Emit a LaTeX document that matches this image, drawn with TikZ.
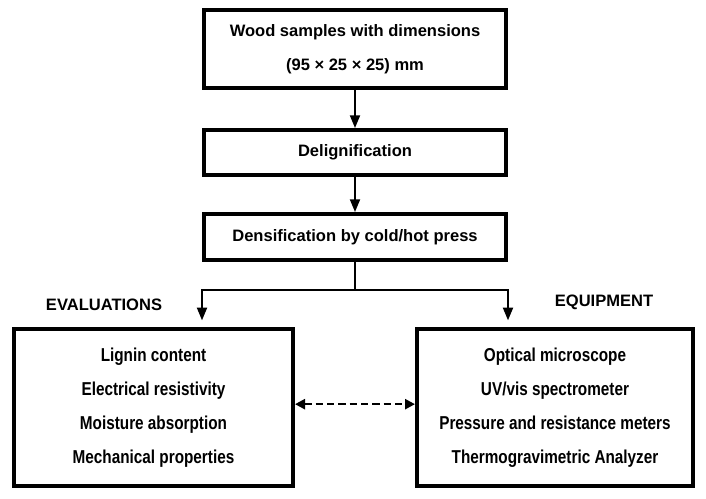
\documentclass[tikz,border=0pt]{standalone}
\usepackage{fontspec}
\setmainfont{Liberation Sans}
\newfontfamily\narrowfont[FakeStretch=0.82]{Liberation Sans}
\usetikzlibrary{arrows.meta,positioning}

\begin{document}
\begin{tikzpicture}[x=0.75pt,y=-0.75pt,
  stage/.style={draw,line width=3pt,minimum width=226.5pt,align=center,font={\bfseries\fontsize{12.4}{25.5}\selectfont}},
  group/.style={draw,line width=3pt,minimum height=117.75pt,align=center,font={\narrowfont\bfseries\fontsize{14}{25.5}\selectfont}},
  heading/.style={font={\bfseries\fontsize{12.4}{15}\selectfont}},
  flow/.style={line width=1.4pt,-{Triangle[length=9.5pt,width=7.5pt]}}]
  \useasboundingbox (0,0) rectangle (706,499);
  \node[stage,minimum height=58.5pt] (wood) at (355,49) {Wood samples with dimensions\\(95 × 25 × 25) mm};
  \node[stage,minimum height=33.75pt,below=28.5pt of wood] (delig) {Delignification};
  \node[stage,minimum height=34.5pt,below=26.25pt of delig] (dens) {Densification by cold/hot press};
  \node[group,minimum width=209.25pt] (eval) at (153.5,407.5) {Lignin content\\Electrical resistivity\\Moisture absorption\\Mechanical properties};
  \node[group,minimum width=207pt] (equip) at (555,407.5) {Optical microscope\\UV/vis spectrometer\\Pressure and resistance meters\\Thermogravimetric Analyzer};
  \node[heading] (evalhead) at (104,305) {EVALUATIONS};
  \node[heading] (equiphead) at (604,302) {EQUIPMENT};
  \draw[flow] (wood) -- (delig);
  \draw[flow] (delig) -- (dens);
  \draw[line width=1.4pt] (dens.south) -- ++(0,28) coordinate (split);
  \draw[flow,shorten >=5pt] (split) -| (dens.south west |- eval.north);
  \draw[flow,shorten >=5pt] (split) -| (dens.south east |- equip.north);
  \draw[line width=1.8pt,dash pattern=on 5.5pt off 3pt,{Triangle[length=7.5pt,width=7.5pt]}-{Triangle[length=7.5pt,width=7.5pt]}] ([yshift=2.5pt]eval.east) -- ([yshift=2.5pt]equip.west);
\end{tikzpicture}
\end{document}
